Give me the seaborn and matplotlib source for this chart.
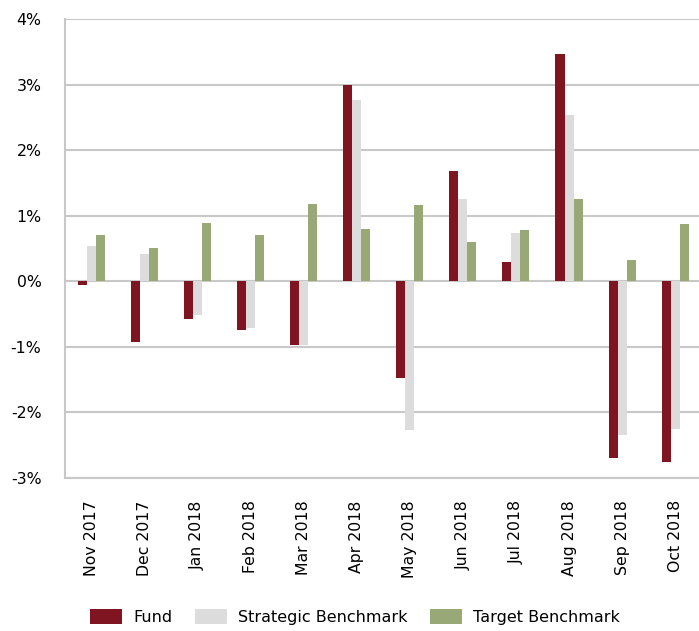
import numpy as np
import pandas as pd
import matplotlib
matplotlib.use("Agg")
import matplotlib.pyplot as plt
from matplotlib.ticker import FuncFormatter, MultipleLocator
from matplotlib.patches import Patch
import seaborn as sns

months = ["Nov 2017", "Dec 2017", "Jan 2018", "Feb 2018", "Mar 2018", "Apr 2018",
          "May 2018", "Jun 2018", "Jul 2018", "Aug 2018", "Sep 2018", "Oct 2018"]
fund = [-0.06, -0.93, -0.58, -0.74, -0.97, 2.99, -1.47, 1.68, 0.29, 3.47, -2.69, -2.76]
strategic = [0.54, 0.42, -0.51, -0.72, -0.97, 2.76, -2.27, 1.25, 0.74, 2.53, -2.34, -2.26]
target = [0.71, 0.51, 0.89, 0.71, 1.18, 0.80, 1.16, 0.60, 0.78, 1.25, 0.32, 0.87]
series = ["Fund", "Strategic Benchmark", "Target Benchmark"]
colors = ["#7F1520", "#DCDCDC", "#98A877"]

df = pd.DataFrame({
    "Month": months * 3,
    "Return": fund + strategic + target,
    "Series": [series[0]] * 12 + [series[1]] * 12 + [series[2]] * 12,
})

sns.set_theme(style="white")
plt.rcParams["font.family"] = ["DejaVu Sans"]

fig = plt.figure(figsize=(6.99, 6.31), dpi=100)
ax = fig.add_axes([65 / 699, 1 - 478 / 631, 634 / 699, (478 - 19) / 631])

sns.barplot(data=df, x="Month", y="Return", hue="Series", order=months,
            hue_order=series, palette=colors, width=0.51, saturation=1,
            linewidth=0, gap=0, legend=False, ax=ax)

ax.set_xlim(-0.5, 11.45)
ax.set_ylim(-3, 4)
ax.yaxis.set_major_locator(MultipleLocator(1))
ax.yaxis.set_major_formatter(FuncFormatter(lambda v, _: f"{v:.0f}%"))
ax.grid(axis="y", color="#C8C8C8", linewidth=1.5)
ax.set_axisbelow(True)
for side in ["top", "right"]:
    ax.spines[side].set_visible(False)
for side in ["left", "bottom"]:
    ax.spines[side].set_color("#C8C8C8")
    ax.spines[side].set_linewidth(1.5)
ax.set_xlabel("")
ax.set_ylabel("")
ax.tick_params(axis="x", labelrotation=90, length=0, pad=16, labelsize=11.3, colors="#000000")
ax.tick_params(axis="y", length=0, pad=17, labelsize=11.3, colors="#000000")

handles = [Patch(facecolor=c, edgecolor="none", label=s) for s, c in zip(series, colors)]
fig.legend(handles=handles, loc="center", bbox_to_anchor=(355 / 699, 1 - 617 / 631),
           ncol=3, frameon=False, fontsize=11.5, handlelength=2.0, handleheight=1.1,
           handletextpad=0.7, columnspacing=1.4, borderaxespad=0, borderpad=0,
           labelcolor="#000000")

fig.savefig("out.png", dpi=100)
